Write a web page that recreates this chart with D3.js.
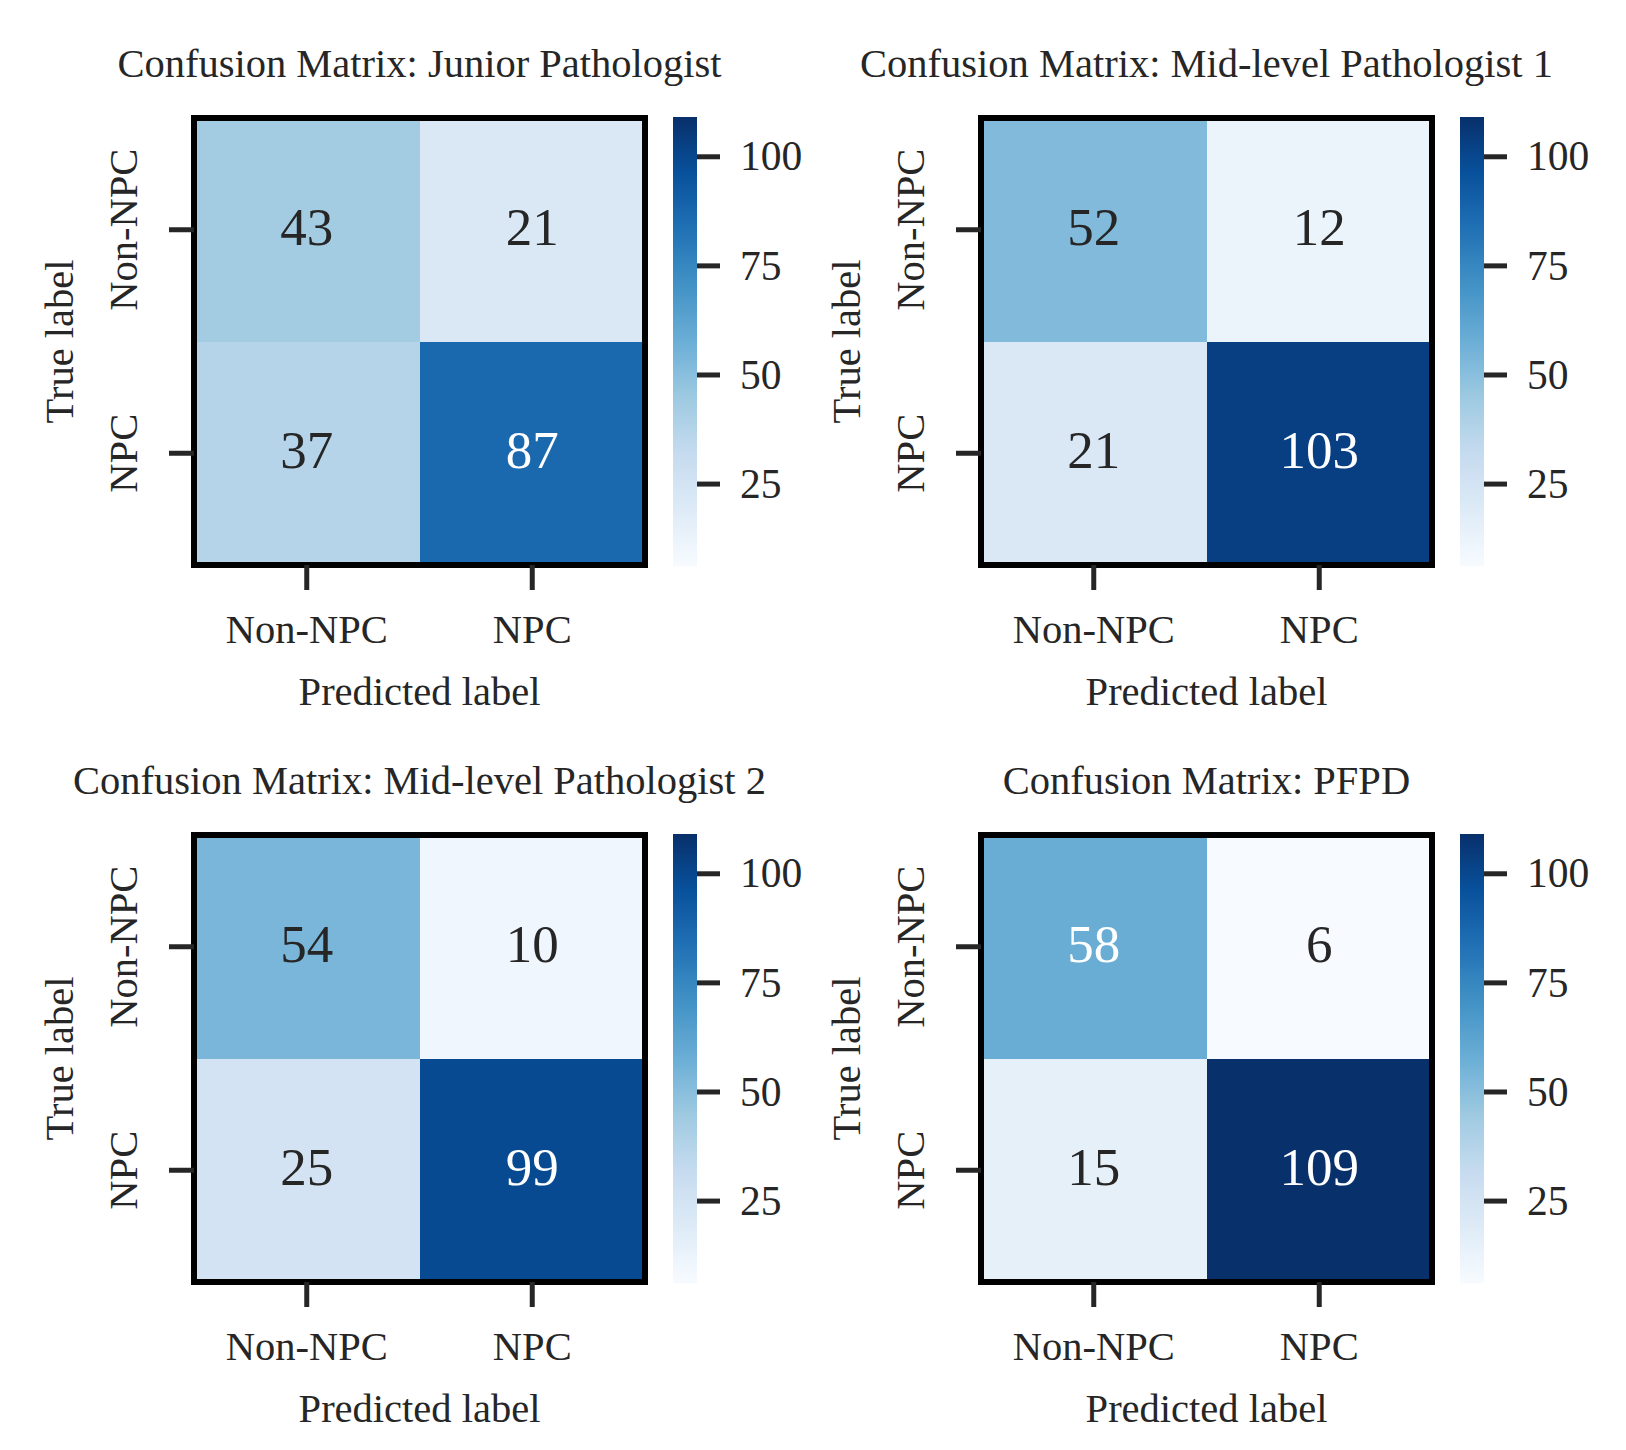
<!DOCTYPE html>
<html>
<head>
<meta charset="utf-8">
<script src="https://cdn.jsdelivr.net/npm/d3@7"></script>
<style>
  html, body { margin: 0; padding: 0; background: #fff; }
  svg { display: block; }
  text { font-family: "Liberation Serif", "Times New Roman", serif; fill: #262626; }
</style>
</head>
<body>
<svg id="chart" width="1626" height="1450"></svg>
<script>
// ---------------- data ----------------
const panelTitles = [
  "Confusion Matrix: Junior Pathologist",
  "Confusion Matrix: Mid-level Pathologist 1",
  "Confusion Matrix: Mid-level Pathologist 2",
  "Confusion Matrix: PFPD"
];
const classLabels = ["Non-NPC", "NPC"];
const juniorValues = [[43, 21], [37, 87]];
const mid1Values   = [[52, 12], [21, 103]];
const mid2Values   = [[54, 10], [25, 99]];
const pfpdValues   = [[58, 6], [15, 109]];
const colorbarTicks = [25, 50, 75, 100];
const xAxisTitle = "Predicted label";
const yAxisTitle = "True label";

const matrices = [juniorValues, mid1Values, mid2Values, pfpdValues];

// ---------------- style / layout ----------------
const bluesStops = ["#f7fbff","#deebf7","#c6dbef","#9ecae1","#6baed6","#4292c6","#2171b5","#08519c","#08306b"];
const blues = d3.scaleLinear()
  .domain(d3.range(bluesStops.length).map(i => i / (bluesStops.length - 1)))
  .range(bluesStops)
  .interpolate(d3.interpolateRgb)
  .clamp(true);

const allVals = matrices.flat(2);
const vmin = d3.min(allVals), vmax = d3.max(allVals);
const norm = d3.scaleLinear().domain([vmin, vmax]).range([0, 1]).clamp(true);
const colorOf = v => blues(norm(v));

function relLum(c) {
  const rgb = d3.rgb(c);
  const f = x => { x /= 255; return x <= 0.03928 ? x / 12.92 : Math.pow((x + 0.055) / 1.055, 2.4); };
  return 0.2126 * f(rgb.r) + 0.7152 * f(rgb.g) + 0.0722 * f(rgb.b);
}

const W = 451, H = 447;
const lefts = [194, 981], tops = [118, 835];
const labelSize = 40.5, annotSize = 53, cbLabelSize = 41.5;
const inkColor = "#262626";
const fontFam = '"Liberation Serif", "Times New Roman", serif';

const svg = d3.select("#chart");
const defs = svg.append("defs");

matrices.forEach((mat, k) => {
  const col = k % 2, row = Math.floor(k / 2);
  const L = lefts[col], T = tops[row];
  const g = svg.append("g").attr("transform", `translate(${L},${T})`);

  const x = d3.scaleBand().domain(classLabels).range([0, W]);
  const y = d3.scaleBand().domain(classLabels).range([0, H]);

  const cells = [];
  classLabels.forEach((tl, i) => classLabels.forEach((pl, j) => cells.push({ t: tl, p: pl, v: mat[i][j] })));

  g.selectAll("rect.cell").data(cells).join("rect")
    .attr("class", "cell")
    .attr("x", d => x(d.p)).attr("y", d => y(d.t))
    .attr("width", x.bandwidth()).attr("height", y.bandwidth())
    .attr("fill", d => colorOf(d.v))
    .attr("shape-rendering", "crispEdges");

  g.selectAll("text.annot").data(cells).join("text")
    .attr("class", "annot")
    .attr("x", d => x(d.p) + x.bandwidth() / 2)
    .attr("y", d => y(d.t) + y.bandwidth() / 2)
    .attr("dy", "0.28em")
    .attr("text-anchor", "middle")
    .style("font-family", fontFam)
    .style("font-size", annotSize + "px")
    .style("fill", d => relLum(colorOf(d.v)) > 0.408 ? inkColor : "#ffffff")
    .text(d => d.v);

  // frame
  g.append("rect")
    .attr("x", 0).attr("y", 0).attr("width", W).attr("height", H)
    .attr("fill", "none").attr("stroke", "#000").attr("stroke-width", 6);

  // x axis
  const xa = g.append("g").attr("transform", `translate(0,${H})`)
    .call(d3.axisBottom(x).tickSize(25).tickSizeOuter(0));
  xa.attr("font-family", null).attr("font-size", null);
  xa.select(".domain").remove();
  xa.selectAll(".tick line").attr("stroke", inkColor).attr("stroke-width", 5);
  xa.selectAll(".tick text")
    .attr("y", 78).attr("dy", 0)
    .style("font-family", fontFam)
    .style("font-size", labelSize + "px").style("fill", inkColor);

  // y axis
  const ya = g.append("g").call(d3.axisLeft(y).tickSize(25).tickSizeOuter(0));
  ya.attr("font-family", null).attr("font-size", null);
  ya.select(".domain").remove();
  ya.selectAll(".tick line").attr("stroke", inkColor).attr("stroke-width", 5);
  ya.selectAll(".tick text")
    .attr("x", 0).attr("y", 0).attr("dy", 0)
    .attr("transform", "translate(-57,0) rotate(-90)")
    .attr("text-anchor", "middle")
    .style("font-family", fontFam)
    .style("font-size", labelSize + "px").style("fill", inkColor);

  // axis titles
  g.append("text")
    .attr("x", W / 2).attr("y", H + 140)
    .attr("text-anchor", "middle")
    .style("font-family", fontFam)
    .style("font-size", labelSize + "px")
    .text(xAxisTitle);
  g.append("text")
    .attr("transform", `translate(-121,${H / 2}) rotate(-90)`)
    .attr("text-anchor", "middle")
    .style("font-family", fontFam)
    .style("font-size", labelSize + "px")
    .text(yAxisTitle);

  // title
  g.append("text")
    .attr("x", W / 2).attr("y", -41)
    .attr("text-anchor", "middle")
    .style("font-family", fontFam)
    .style("font-size", labelSize + "px")
    .text(panelTitles[k]);

  // colorbar
  const cbX = 479, cbW = 24;
  const cScale = d3.scaleLinear().domain([vmin, vmax]).range([H + 1.5, -1]);
  const gid = "cbgrad" + k;
  const grad = defs.append("linearGradient").attr("id", gid)
    .attr("x1", 0).attr("y1", 1).attr("x2", 0).attr("y2", 0);
  d3.range(0, 1.0001, 1 / 32).forEach(t => {
    grad.append("stop").attr("offset", t).attr("stop-color", blues(t));
  });
  g.append("rect")
    .attr("x", cbX).attr("y", cScale(vmax))
    .attr("width", cbW).attr("height", cScale(vmin) - cScale(vmax))
    .attr("fill", `url(#${gid})`);
  const ca = g.append("g").attr("transform", `translate(${cbX + cbW},0)`)
    .call(d3.axisRight(cScale).tickValues(colorbarTicks).tickSize(23).tickSizeOuter(0));
  ca.attr("font-family", null).attr("font-size", null);
  ca.select(".domain").remove();
  ca.selectAll(".tick line").attr("stroke", inkColor).attr("stroke-width", 5);
  ca.selectAll(".tick text")
    .attr("x", 43).attr("dy", "0.33em")
    .style("font-family", fontFam)
    .style("font-size", cbLabelSize + "px").style("fill", inkColor);
});
</script>
</body>
</html>
